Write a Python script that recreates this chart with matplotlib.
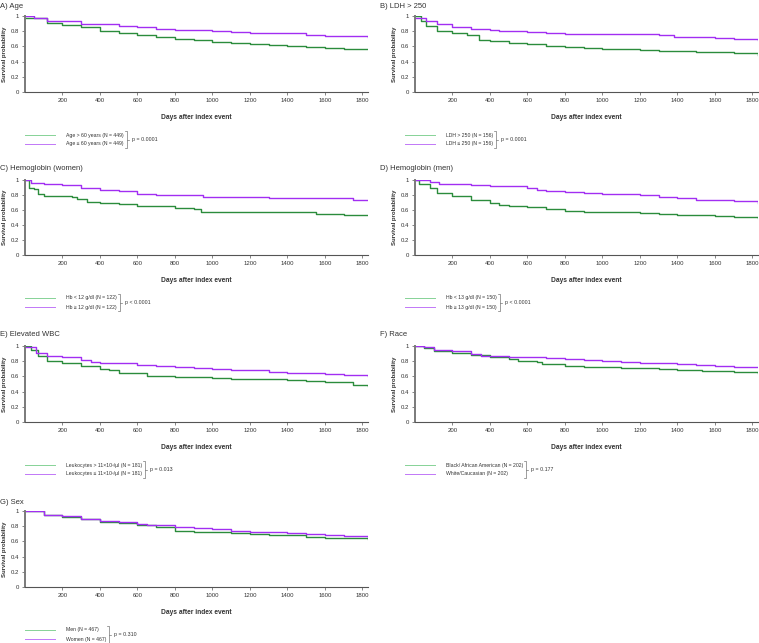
import matplotlib
matplotlib.use("Agg")
import matplotlib.pyplot as plt
from matplotlib.lines import Line2D

W, H = 759, 643

# ---------------- data ----------------
titles = ["A) Age", "B) LDH > 250", "C) Hemoglobin (women)", "D) Hemoglobin (men)",
          "E) Elevated WBC", "F) Race", "G) Sex"]
labels_g = ["Age > 60 years (N = 449)", "LDH > 250 (N = 156)", "Hb < 12 g/dl (N = 122)",
            "Hb < 13 g/dl (N = 150)", "Leukocytes > 11\u00d710\u00b3/\u00b5l (N = 181)",
            "Black/ African American (N = 202)", "Men (N = 467)"]
labels_p = ["Age \u2264 60 years (N = 449)", "LDH \u2264 250 (N = 156)", "Hb \u2265 12 g/dl (N = 122)",
            "Hb \u2265 13 g/dl (N = 150)", "Leukocytes \u2264 11\u00d710\u00b3/\u00b5l (N = 181)",
            "White/Caucasian (N = 202)", "Women (N = 467)"]
pvals = ["p = 0.0001", "p = 0.0001", "p < 0.0001", "p < 0.0001", "p = 0.013", "p = 0.177", "p = 0.310"]

A_g_t = [0, 120, 200, 300, 400, 500, 600, 700, 800, 900, 1000, 1100, 1200, 1300, 1400, 1500, 1600, 1700, 1830]
A_g_s = [0.97, 0.91, 0.88, 0.86, 0.80, 0.78, 0.75, 0.72, 0.70, 0.68, 0.66, 0.64, 0.63, 0.62, 0.61, 0.59, 0.58, 0.57, 0.56]
A_p_t = [0, 50, 120, 200, 300, 400, 500, 600, 700, 800, 900, 1000, 1100, 1200, 1300, 1400, 1500, 1600, 1700, 1830]
A_p_s = [1.0, 0.98, 0.94, 0.93, 0.90, 0.89, 0.87, 0.86, 0.83, 0.81, 0.81, 0.80, 0.79, 0.78, 0.78, 0.77, 0.75, 0.74, 0.74, 0.73]

B_g_t = [0, 30, 60, 120, 200, 280, 340, 400, 500, 600, 700, 800, 900, 1000, 1100, 1200, 1300, 1400, 1500, 1600, 1700, 1830]
B_g_s = [1.0, 0.93, 0.87, 0.80, 0.77, 0.75, 0.69, 0.67, 0.64, 0.63, 0.61, 0.59, 0.58, 0.57, 0.57, 0.55, 0.54, 0.54, 0.53, 0.52, 0.51, 0.49]
B_p_t = [0, 60, 120, 200, 300, 400, 450, 600, 700, 800, 1000, 1200, 1300, 1380, 1500, 1600, 1700, 1830]
B_p_s = [0.98, 0.93, 0.89, 0.86, 0.83, 0.82, 0.80, 0.79, 0.77, 0.76, 0.76, 0.76, 0.75, 0.72, 0.72, 0.71, 0.70, 0.69]

C_g_t = [0, 20, 50, 70, 100, 200, 250, 280, 330, 400, 500, 600, 700, 800, 900, 940, 1100, 1200, 1400, 1550, 1700, 1830]
C_g_s = [1.0, 0.90, 0.88, 0.82, 0.79, 0.79, 0.78, 0.75, 0.71, 0.69, 0.68, 0.66, 0.65, 0.63, 0.62, 0.58, 0.57, 0.57, 0.57, 0.55, 0.54, 0.53]
C_p_t = [0, 30, 100, 200, 300, 400, 500, 600, 700, 900, 950, 1200, 1300, 1700, 1750, 1830]
C_p_s = [1.0, 0.96, 0.95, 0.93, 0.90, 0.87, 0.85, 0.82, 0.80, 0.80, 0.78, 0.77, 0.76, 0.76, 0.74, 0.74]

D_g_t = [0, 20, 80, 120, 200, 300, 400, 450, 500, 600, 700, 800, 900, 1000, 1100, 1200, 1300, 1400, 1500, 1600, 1700, 1830]
D_g_s = [1.0, 0.95, 0.90, 0.83, 0.79, 0.74, 0.70, 0.67, 0.65, 0.64, 0.62, 0.59, 0.58, 0.57, 0.57, 0.56, 0.55, 0.53, 0.53, 0.52, 0.51, 0.50]
D_p_t = [0, 80, 130, 300, 400, 600, 650, 700, 800, 900, 1000, 1100, 1200, 1300, 1400, 1500, 1600, 1700, 1830]
D_p_s = [1.0, 0.98, 0.95, 0.93, 0.92, 0.90, 0.87, 0.85, 0.84, 0.83, 0.82, 0.81, 0.80, 0.77, 0.76, 0.74, 0.73, 0.72, 0.70]

E_g_t = [0, 30, 70, 120, 200, 300, 400, 450, 500, 600, 650, 700, 800, 900, 1000, 1100, 1200, 1300, 1400, 1500, 1600, 1700, 1750, 1830]
E_g_s = [1.0, 0.95, 0.87, 0.80, 0.77, 0.74, 0.70, 0.68, 0.65, 0.64, 0.61, 0.60, 0.59, 0.59, 0.58, 0.57, 0.56, 0.56, 0.55, 0.54, 0.53, 0.52, 0.49, 0.48]
E_p_t = [0, 60, 120, 200, 300, 350, 400, 500, 600, 700, 800, 900, 1000, 1100, 1200, 1300, 1400, 1500, 1600, 1700, 1830]
E_p_s = [0.99, 0.91, 0.87, 0.85, 0.82, 0.79, 0.78, 0.77, 0.75, 0.74, 0.72, 0.71, 0.70, 0.69, 0.68, 0.66, 0.65, 0.64, 0.63, 0.62, 0.61]

F_g_t = [0, 50, 100, 200, 300, 400, 500, 550, 650, 680, 800, 900, 1000, 1100, 1300, 1400, 1500, 1530, 1700, 1830]
F_g_s = [1.0, 0.98, 0.94, 0.91, 0.88, 0.85, 0.83, 0.80, 0.79, 0.76, 0.74, 0.73, 0.72, 0.71, 0.70, 0.69, 0.68, 0.67, 0.66, 0.65]
F_p_t = [0, 50, 100, 200, 300, 350, 500, 700, 800, 900, 1000, 1100, 1200, 1300, 1400, 1500, 1600, 1700, 1830]
F_p_s = [1.0, 0.99, 0.95, 0.93, 0.89, 0.87, 0.85, 0.84, 0.83, 0.82, 0.80, 0.79, 0.78, 0.77, 0.76, 0.75, 0.74, 0.73, 0.72]

G_g_t = [0, 100, 200, 300, 400, 500, 600, 700, 800, 900, 1000, 1100, 1200, 1300, 1400, 1500, 1600, 1700, 1830]
G_g_s = [1.0, 0.95, 0.92, 0.89, 0.86, 0.84, 0.81, 0.79, 0.74, 0.73, 0.72, 0.71, 0.70, 0.69, 0.68, 0.66, 0.65, 0.64, 0.63]
G_p_t = [0, 100, 200, 300, 400, 500, 600, 650, 800, 900, 1000, 1100, 1200, 1300, 1400, 1500, 1600, 1700, 1830]
G_p_s = [1.0, 0.95, 0.93, 0.90, 0.87, 0.85, 0.83, 0.81, 0.79, 0.78, 0.76, 0.74, 0.73, 0.72, 0.71, 0.70, 0.69, 0.67, 0.66]

greens = [(A_g_t, A_g_s), (B_g_t, B_g_s), (C_g_t, C_g_s), (D_g_t, D_g_s), (E_g_t, E_g_s), (F_g_t, F_g_s), (G_g_t, G_g_s)]
purples = [(A_p_t, A_p_s), (B_p_t, B_p_s), (C_p_t, C_p_s), (D_p_t, D_p_s), (E_p_t, E_p_s), (F_p_t, F_p_s), (G_p_t, G_p_s)]

x_ticks = [200, 400, 600, 800, 1000, 1200, 1400, 1600, 1800]
y_ticks = [0, 0.2, 0.4, 0.6, 0.8, 1]
y_ticklabels = ["0", "0.2", "0.4", "0.6", "0.8", "1"]

# ---------------- layout ----------------
GREEN = "#2b8c3c"
PURPLE = "#a22ef2"
GREEN_L = "#86d296"
PURPLE_L = "#c177f7"
TXT = "#333333"

plt.rcParams['font.family'] = ['Liberation Sans', 'DejaVu Sans']
fig = plt.figure(figsize=(W / 100, H / 100), dpi=100)
fig.patch.set_facecolor("white")
renderer = fig.canvas.get_renderer()

def fx(px):
    return px / W

def fy(py):
    return 1 - py / H

col_left = [25, 415]
col_right = [368, 758]
row_top = [16, 180, 346, 511]
row_bot = [92, 255, 422, 587]
title_y = [7, 168, 335, 503]
title_x = [0, 380]

for i in range(7):
    r, c = divmod(i, 2)
    l, rr = col_left[c], col_right[c]
    t, b = row_top[r], row_bot[r]
    ax = fig.add_axes([fx(l), fy(b), fx(rr - l), (b - t) / H])
    gt, gs = greens[i]
    pt, ps = purples[i]
    ax.plot(gt, gs, drawstyle="steps-post", color=GREEN, lw=1.0)
    ax.plot(pt, ps, drawstyle="steps-post", color=PURPLE, lw=1.0)
    ax.set_xlim(0, 1830)
    ax.set_ylim(0, 1.0)
    ax.set_xticks(x_ticks)
    ax.set_xticklabels([str(v) for v in x_ticks])
    ax.set_yticks(y_ticks)
    ax.set_yticklabels(y_ticklabels)
    ax.tick_params(labelsize=4.3, length=2, width=0.5, colors="#555555", labelcolor=TXT, pad=2.5)
    for s in ["top", "right"]:
        ax.spines[s].set_visible(False)
    ax.spines["left"].set_color("#7a7a7a")
    ax.spines["left"].set_linewidth(1.4)
    ax.spines["bottom"].set_color("#555555")
    ax.spines["bottom"].set_linewidth(0.8)
    ax.set_ylabel("Survival probability", fontsize=4.3, fontweight="bold", color=TXT)
    ax.yaxis.set_label_coords(-18 / (rr - l), 0.5)
    ax.set_xlabel("Days after index event", fontsize=4.8, fontweight="bold", color=TXT)
    ax.xaxis.set_label_coords(0.5, -22 / (b - t))

    fig.text(fx(title_x[c]), fy(title_y[r]), titles[i], fontsize=5.5, color=TXT, va="center", ha="left")

    # legend
    ly1 = b + 43
    ly2 = b + 52
    x0 = title_x[c] + 25
    fig.add_artist(Line2D([fx(x0), fx(x0 + 30)], [fy(ly1), fy(ly1)], color=GREEN_L, lw=0.7))
    fig.add_artist(Line2D([fx(x0), fx(x0 + 30)], [fy(ly2), fy(ly2)], color=PURPLE_L, lw=0.7))
    t1 = fig.text(fx(x0 + 41), fy(ly1), labels_g[i], fontsize=3.7, color=TXT, va="center", ha="left")
    t2 = fig.text(fx(x0 + 41), fy(ly2), labels_p[i], fontsize=3.7, color=TXT, va="center", ha="left")
    wmax = max(t1.get_window_extent(renderer).x1, t2.get_window_extent(renderer).x1)
    bx = wmax + 3
    by_top, by_bot = ly1 - 4, ly2 + 4
    fig.add_artist(Line2D([fx(bx - 2), fx(bx), fx(bx), fx(bx - 2)],
                          [fy(by_top), fy(by_top), fy(by_bot), fy(by_bot)], color="#777777", lw=0.5))
    fig.add_artist(Line2D([fx(bx), fx(bx + 2)], [fy((ly1 + ly2) / 2), fy((ly1 + ly2) / 2)], color="#777777", lw=0.5))
    fig.text(fx(bx + 5), fy((ly1 + ly2) / 2), pvals[i], fontsize=3.8, color=TXT, va="center", ha="left")

fig.savefig("out.png", dpi=100, facecolor="white")
